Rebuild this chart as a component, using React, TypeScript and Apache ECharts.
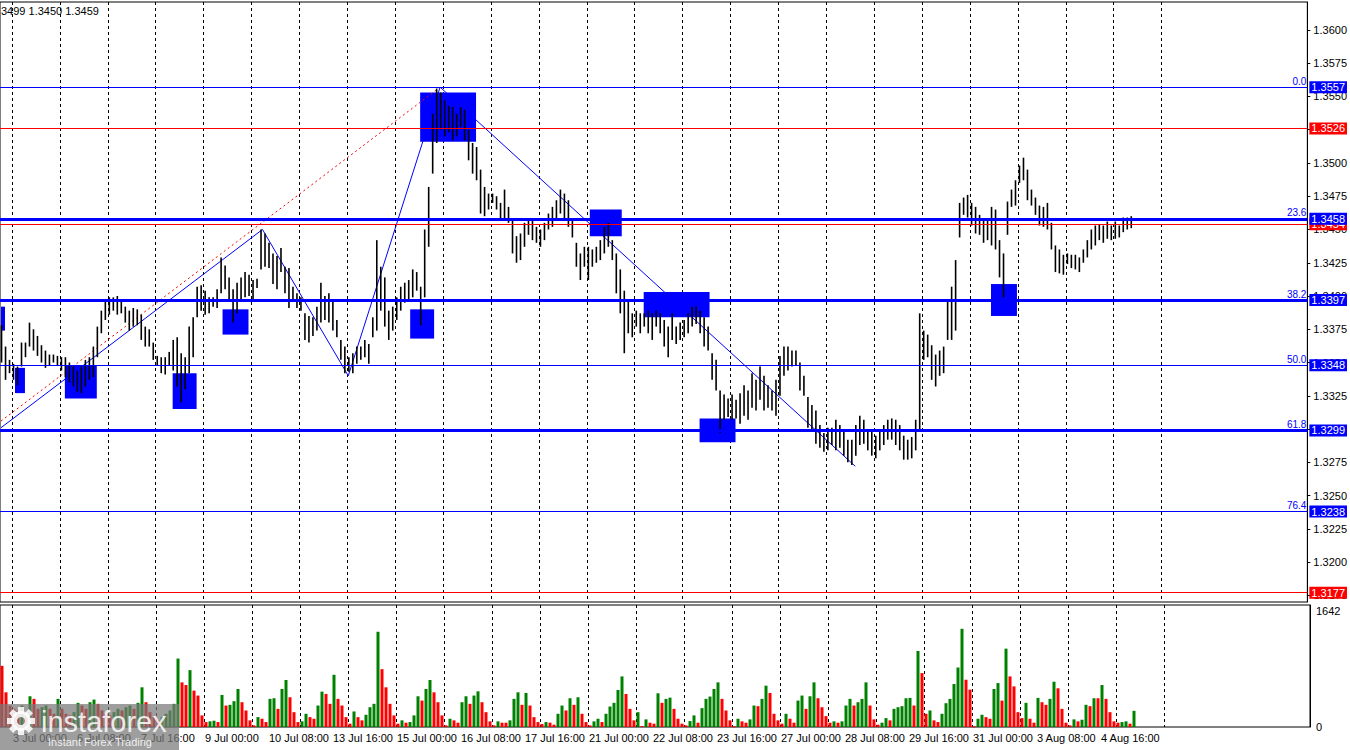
import { useEffect, useRef } from 'react';
import * as echarts from 'echarts';

// 2-hour bars, values in pips above 1.0000 (3450 -> 1.3450)
const LOWS = [
  3350, 3337, 3342, 3337, 3333, 3347, 3354, 3362, 3359, 3355, 3350, 3346, 3348, 3350, 3348, 3344, 3339, 3335, 3332, 3328,
  3327, 3332, 3337, 3339, 3354, 3372, 3382, 3386, 3389, 3386, 3387, 3380, 3374, 3377, 3378, 3367, 3362, 3362, 3352, 3348,
  3342, 3341, 3348, 3344, 3332, 3320, 3330, 3342, 3354, 3384, 3389, 3386, 3387, 3392, 3391, 3402, 3405, 3397, 3380, 3387,
  3397, 3399, 3400, 3397, 3406, 3420, 3422, 3421, 3409, 3405, 3418, 3402, 3391, 3397, 3391, 3389, 3367, 3365, 3370, 3374,
  3380, 3382, 3380, 3374, 3369, 3352, 3342, 3343, 3342, 3349, 3352, 3354, 3349, 3369, 3374, 3389, 3377, 3367, 3374, 3382,
  3389, 3395, 3397, 3399, 3404, 3378, 3399, 3437, 3492, 3515, 3525, 3520, 3523, 3517, 3520, 3527, 3517, 3502, 3492, 3487,
  3462, 3460, 3465, 3470, 3465, 3457, 3457, 3455, 3432, 3425, 3427, 3437, 3446, 3442, 3440, 3437, 3442, 3450, 3452, 3457,
  3462, 3457, 3452, 3444, 3422, 3412, 3422, 3412, 3422, 3425, 3427, 3432, 3437, 3427, 3402, 3387, 3357, 3372, 3369, 3377,
  3372, 3377, 3372, 3367, 3377, 3372, 3362, 3354, 3367, 3364, 3367, 3369, 3372, 3377, 3379, 3372, 3362, 3359, 3337, 3329,
  3297, 3307, 3309, 3307, 3308, 3304, 3310, 3307, 3316, 3314, 3322, 3314, 3316, 3314, 3310, 3325, 3340, 3344, 3347, 3348,
  3329, 3325, 3301, 3299, 3289, 3286, 3283, 3284, 3288, 3284, 3286, 3280, 3275, 3273, 3280, 3288, 3289, 3284, 3280, 3278,
  3284, 3288, 3292, 3292, 3288, 3284, 3277, 3277, 3278, 3284, 3299, 3352, 3354, 3337, 3332, 3340, 3342, 3367, 3367, 3374,
  3444, 3461, 3459, 3453, 3447, 3446, 3440, 3442, 3438, 3435, 3414, 3399, 3446, 3467, 3468, 3485, 3487, 3472, 3468, 3461,
  3453, 3452, 3450, 3435, 3418, 3417, 3416, 3424, 3421, 3420, 3418, 3425, 3429, 3435, 3438, 3442, 3440, 3443, 3442, 3443,
  3444, 3448, 3450, 3451,
];

const HIGHS = [
  3378, 3362, 3352, 3349, 3347, 3365, 3365, 3380, 3375, 3370, 3363, 3359, 3356, 3356, 3355, 3354, 3354, 3350, 3347, 3344,
  3347, 3352, 3354, 3362, 3377, 3389, 3397, 3399, 3399, 3400, 3397, 3392, 3389, 3391, 3390, 3386, 3377, 3375, 3365, 3355,
  3354, 3354, 3358, 3367, 3369, 3357, 3354, 3377, 3384, 3407, 3408, 3404, 3399, 3399, 3405, 3429, 3423, 3414, 3405, 3410,
  3414, 3418, 3416, 3412, 3413, 3450, 3447, 3440, 3432, 3430, 3436, 3422, 3421, 3407, 3402, 3399, 3387, 3385, 3384, 3392,
  3410, 3400, 3402, 3397, 3382, 3367, 3362, 3354, 3357, 3362, 3362, 3367, 3364, 3384, 3442, 3422, 3414, 3389, 3392, 3399,
  3407, 3410, 3412, 3420, 3418, 3407, 3450, 3482, 3537, 3556, 3553, 3547, 3543, 3542, 3537, 3542, 3540, 3525, 3515, 3512,
  3495, 3482, 3477, 3477, 3475, 3470, 3480, 3467, 3457, 3445, 3447, 3455, 3457, 3457, 3452, 3450, 3455, 3462, 3467, 3472,
  3480, 3477, 3472, 3457, 3440, 3432, 3437, 3437, 3435, 3437, 3442, 3452, 3455, 3442, 3432, 3420, 3404, 3397, 3387, 3389,
  3387, 3387, 3389, 3387, 3389, 3387, 3382, 3377, 3387, 3377, 3380, 3382, 3387, 3392, 3392, 3389, 3384, 3377, 3357, 3352,
  3329, 3326, 3323, 3326, 3322, 3327, 3333, 3329, 3342, 3337, 3347, 3340, 3333, 3329, 3337, 3355, 3362, 3362, 3359, 3359,
  3350, 3340, 3324, 3318, 3314, 3303, 3297, 3301, 3301, 3307, 3303, 3299, 3292, 3292, 3303, 3310, 3307, 3299, 3299, 3295,
  3298, 3303, 3307, 3308, 3307, 3303, 3295, 3292, 3294, 3307, 3387, 3374, 3371, 3363, 3356, 3359, 3362, 3397, 3407, 3427,
  3470, 3474, 3476, 3470, 3467, 3461, 3457, 3457, 3467, 3465, 3442, 3432, 3471, 3480, 3487, 3498, 3504, 3495, 3480, 3474,
  3468, 3467, 3470, 3455, 3438, 3435, 3431, 3432, 3431, 3431, 3429, 3435, 3442, 3450, 3453, 3454, 3453, 3456, 3453, 3456,
  3453, 3459, 3459, 3460,
];

const VOLUMES = [
  866, 491, 304, 257, 234, 304, 210, 435, 398, 257, 280, 304, 257, 187, 398, 257, 187, 164, 210, 342,
  304, 257, 351, 388, 328, 234, 187, 164, 210, 257, 234, 280, 304, 257, 342, 562, 351, 210, 140, 94,
  140, 187, 234, 328, 969, 632, 594, 805, 515, 445, 164, 70, 80, 89, 70, 454, 304, 314, 365, 538,
  351, 234, 94, 23, 140, 117, 70, 398, 407, 257, 538, 665, 421, 210, 70, 80, 187, 140, 117, 304,
  501, 468, 328, 739, 398, 304, 140, 47, 220, 140, 94, 173, 280, 328, 1348, 819, 562, 328, 164, 47,
  94, 61, 70, 164, 435, 374, 538, 665, 491, 351, 164, 23, 117, 94, 61, 351, 435, 328, 445, 505,
  351, 210, 80, 23, 80, 61, 61, 94, 398, 491, 314, 482, 304, 140, 70, 42, 70, 61, 33, 187,
  304, 234, 407, 314, 421, 187, 70, 23, 80, 117, 70, 187, 290, 342, 524, 716, 468, 257, 94, 210,
  14, 108, 61, 47, 477, 342, 398, 416, 257, 117, 47, 23, 84, 164, 61, 267, 398, 431, 538, 632,
  398, 234, 94, 9, 117, 80, 61, 108, 304, 295, 398, 585, 482, 187, 94, 47, 187, 117, 61, 374,
  445, 257, 435, 632, 407, 280, 154, 61, 80, 61, 80, 304, 398, 304, 351, 398, 632, 304, 108, 33,
  61, 126, 94, 257, 280, 295, 407, 412, 304, 1076, 763, 187, 234, 94, 70, 187, 337, 398, 608, 842,
  1390, 669, 529, 9, 117, 173, 140, 117, 538, 622, 374, 1109, 716, 575, 210, 126, 342, 117, 61, 412,
  351, 314, 398, 641, 548, 257, 61, 23, 108, 80, 103, 314, 295, 407, 407, 594, 398, 210, 80, 61,
  70, 80, 47, 229,
];

// hourly time slots shown on the axis (bars above sit on every second slot)
const START = Date.UTC(2020, 6, 2, 18);
const SLOT_COUNT = 655;
const FIRST_LABEL = 6;
const LAST_SLOT = 567;
const MONTHS = ['Jan', 'Feb', 'Mar', 'Apr', 'May', 'Jun', 'Jul', 'Aug', 'Sep', 'Oct', 'Nov', 'Dec'];

const PRICE_TICKS = [
  1.3175, 1.32, 1.3225, 1.325, 1.3275, 1.33, 1.3325, 1.335, 1.3375, 1.34, 1.3425, 1.345, 1.3475, 1.35, 1.3525, 1.355,
  1.3575, 1.36,
];
const VOLUME_TICKS = [0, 1642];

const FIB_NAMES = ['0.0', '23.6', '38.2', '50.0', '61.8', '76.4'];
const FIB_PRICES = [1.3557, 1.3458, 1.3397, 1.3348, 1.3299, 1.3238];
const RED_LEVELS = [1.3526, 1.3454, 1.3177];

// swing points of the zigzag and the fibo anchor line: [slot, price]
const ZIGZAG = [
  [0, 1.3301],
  [131, 1.345],
  [174, 1.334],
  [220, 1.3557],
  [428, 1.3272],
];
const FIB_ANCHOR = [
  [0, 1.3306],
  [220, 1.3557],
];

// signal boxes: [fromSlot, toSlot, top price, bottom price]
const BOXES = [
  [0, 2, 1.3392, 1.3374],
  [7, 12, 1.3346, 1.3327],
  [32, 48, 1.3348, 1.3323],
  [86, 98, 1.3342, 1.3315],
  [111, 124, 1.339, 1.3371],
  [205, 217, 1.339, 1.3368],
  [210, 238, 1.3553, 1.3516],
  [295, 311, 1.3465, 1.3445],
  [322, 355, 1.3403, 1.3384],
  [350, 368, 1.3308, 1.329],
  [496, 509, 1.3409, 1.3385],
];

const HEADER = '3499 1.3450 1.3459';

const BLUE = '#0000ff';
const RED = '#ff0000';
const GREEN = '#008000';
const FONT = '"Liberation Sans", Arial, sans-serif';
const THICK = ['23.6', '38.2', '61.8'];
const LOGO_INK = 'rgba(255,255,255,0.85)';

function buildSlots(): string[] {
  const out: string[] = [];
  let t = START;
  while (out.length < SLOT_COUNT) {
    const d = new Date(t);
    const dow = d.getUTCDay();
    if (dow !== 0 && dow !== 6) {
      const hh = String(d.getUTCHours()).padStart(2, '0');
      out.push(`${d.getUTCDate()} ${MONTHS[d.getUTCMonth()]} ${hh}:00`);
    }
    t += 3600 * 1000;
  }
  return out;
}

function buildOption(): echarts.EChartsOption {
  const slots = buildSlots();
  const priceData = LOWS.map((lo, k) => [k * 2, 1 + lo / 10000, 1 + HIGHS[k] / 10000]);
  const volData = VOLUMES.map((v, k) => [k * 2, v, k > 0 && v > VOLUMES[k - 1] ? 1 : 0]);

  const dayLine = (idx: number, val: string) => idx <= 583 && / 00:00$/.test(val);
  const splitLine = {
    show: true,
    interval: dayLine,
    lineStyle: { color: '#000', type: [3, 3] as number[], width: 1 },
  };

  const priceBox = (p: number, bg: string) => ({
    show: true,
    position: 'end' as const,
    formatter: p.toFixed(4),
    backgroundColor: bg,
    color: '#fff',
    opacity: 1,
    fontSize: 11,
    fontFamily: FONT,
    padding: [1, 2, 0, 2],
    distance: 2,
  });

  const levelLines: any[] = [];
  RED_LEVELS.forEach((p) => {
    levelLines.push({
      yAxis: p,
      lineStyle: { color: RED, width: 1, type: 'solid' },
      label: priceBox(p, RED),
    });
  });
  FIB_PRICES.forEach((p, i) => {
    levelLines.push({
      yAxis: p,
      lineStyle: { color: BLUE, width: THICK.includes(FIB_NAMES[i]) ? 3 : 1, type: 'solid' },
      label: {
        show: true,
        position: 'insideEndTop',
        formatter: FIB_NAMES[i],
        color: BLUE,
        fontSize: 10,
        fontFamily: FONT,
        distance: 1,
      },
    });
  });
  FIB_PRICES.forEach((p) => {
    levelLines.push({
      yAxis: p,
      lineStyle: { color: 'rgba(0,0,255,0)', width: 1, type: 'solid' },
      label: priceBox(p, BLUE),
    });
  });

  const gearTeeth = [0, 45, 90, 135, 180, 225, 270, 315].map((deg) => ({
    type: 'rect',
    x: 21,
    y: 721,
    z: 101,
    rotation: (deg * Math.PI) / 180,
    shape: { x: -3, y: -14, width: 6, height: 7 },
    style: { fill: LOGO_INK },
  }));

  return {
    animation: false,
    backgroundColor: '#fff',
    textStyle: { fontFamily: FONT },
    grid: [
      { left: 0, top: 2, width: 1310, height: 600, show: true, borderColor: '#000', borderWidth: 1 },
      { left: 0, top: 605, width: 1310, height: 122, show: true, borderColor: '#000', borderWidth: 1 },
    ],
    xAxis: [
      {
        type: 'category',
        gridIndex: 0,
        data: slots,
        boundaryGap: true,
        axisLine: { show: false },
        axisTick: { show: false },
        axisLabel: { show: false },
        splitLine,
      },
      {
        type: 'category',
        gridIndex: 1,
        data: slots,
        boundaryGap: true,
        axisLine: { show: false },
        axisTick: { show: false },
        axisLabel: {
          show: true,
          interval: (idx: number) => idx >= FIRST_LABEL && idx <= LAST_SLOT && (idx - FIRST_LABEL) % 32 === 0,
          align: 'left',
          color: '#000',
          fontSize: 11,
          margin: 5,
        },
        splitLine,
      },
    ],
    yAxis: [
      {
        type: 'value',
        gridIndex: 0,
        position: 'right',
        min: 1.317,
        max: 1.3621,
        axisLine: { show: true, lineStyle: { color: '#000' } },
        axisTick: { show: true, customValues: PRICE_TICKS, length: 3, lineStyle: { color: '#000' } },
        axisLabel: {
          customValues: PRICE_TICKS,
          formatter: (v: number) => v.toFixed(4),
          color: '#000',
          fontSize: 11,
          margin: 6,
        },
        splitLine: { show: false },
      },
      {
        type: 'value',
        gridIndex: 1,
        position: 'right',
        min: 0,
        max: 1727,
        axisLine: { show: true, lineStyle: { color: '#000' } },
        axisTick: { show: false, customValues: VOLUME_TICKS },
        axisLabel: {
          customValues: VOLUME_TICKS,
          formatter: (v: number) => String(v),
          color: '#000',
          fontSize: 11,
          margin: 6,
        },
        splitLine: { show: false },
      },
    ],
    series: [
      {
        type: 'line',
        xAxisIndex: 0,
        yAxisIndex: 0,
        data: FIB_ANCHOR,
        symbol: 'none',
        clip: false,
        z: 2,
        lineStyle: { color: RED, width: 1, type: [2, 3] },
        markArea: {
          silent: true,
          itemStyle: { color: BLUE, opacity: 1 },
          data: BOXES.map((b) => [{ coord: [b[0], b[2]] }, { coord: [b[1], b[3]] }]) as any,
        },
      },
      {
        type: 'custom',
        xAxisIndex: 0,
        yAxisIndex: 0,
        z: 4,
        encode: { x: 0, y: [1, 2] },
        data: priceData,
        renderItem: (_params: any, api: any) => {
          const lo = api.coord([api.value(0), api.value(1)]);
          const hi = api.coord([api.value(0), api.value(2)]);
          return {
            type: 'rect',
            shape: { x: lo[0] - 0.25, y: hi[1], width: 1.6, height: Math.max(1, lo[1] - hi[1]) },
            style: { fill: '#000' },
          };
        },
      },
      {
        type: 'line',
        xAxisIndex: 0,
        yAxisIndex: 0,
        data: ZIGZAG,
        symbol: 'none',
        clip: false,
        z: 3,
        lineStyle: { color: BLUE, width: 1 },
        markLine: {
          silent: true,
          symbol: 'none',
          precision: 6,
          data: levelLines,
        },
      },
      {
        type: 'custom',
        xAxisIndex: 1,
        yAxisIndex: 1,
        encode: { x: 0, y: 1 },
        data: volData,
        renderItem: (_params: any, api: any) => {
          const base = api.coord([api.value(0), 0]);
          const top = api.coord([api.value(0), api.value(1)]);
          return {
            type: 'rect',
            shape: { x: base[0] - 0.5, y: top[1], width: 3, height: Math.max(1, base[1] - top[1]) },
            style: { fill: api.value(2) === 1 ? GREEN : RED },
          };
        },
      },
    ],
    graphic: [
      {
        type: 'text',
        x: 1,
        y: 5,
        z: 50,
        style: { text: HEADER, fill: '#000', font: `11px ${FONT}` },
      },
      {
        type: 'rect',
        x: 0,
        y: 704,
        z: 100,
        shape: { x: 0, y: 0, width: 179, height: 46 },
        style: { fill: 'rgba(120,120,120,0.72)' },
      },
      ...gearTeeth,
      {
        type: 'ring',
        x: 21,
        y: 721,
        z: 101,
        shape: { cx: 0, cy: 0, r: 10, r0: 4 },
        style: { fill: LOGO_INK },
      },
      {
        type: 'text',
        x: 41,
        y: 707,
        z: 101,
        style: { text: 'instaforex', fill: LOGO_INK, font: `29px ${FONT}` },
      },
      {
        type: 'text',
        x: 48,
        y: 736,
        z: 101,
        style: { text: 'Instant Forex Trading', fill: LOGO_INK, font: `11px ${FONT}` },
      },
    ],
  } as echarts.EChartsOption;
}

export default function App() {
  const ref = useRef<HTMLDivElement>(null);

  useEffect(() => {
    if (!ref.current) return;
    const chart = echarts.init(ref.current, undefined, { renderer: 'svg' });
    chart.setOption(buildOption());
    return () => {
      chart.dispose();
    };
  }, []);

  return (
    <div
      ref={ref}
      style={{ position: 'fixed', left: 0, top: 0, width: 1350, height: 750, background: '#fff' }}
    />
  );
}
